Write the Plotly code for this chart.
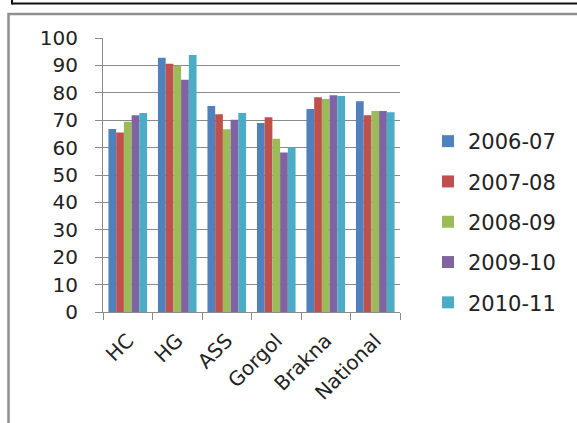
import plotly.graph_objects as go

categories = ["HC", "HG", "ASS", "Gorgol", "Brakna", "National"]
series_names = ["2006-07", "2007-08", "2008-09", "2009-10", "2010-11"]
v_2006_07 = [66.8, 92.8, 75.2, 69.0, 74.1, 76.9]
v_2007_08 = [65.5, 90.6, 72.2, 71.1, 78.4, 71.8]
v_2008_09 = [69.4, 89.9, 66.7, 63.2, 77.7, 73.4]
v_2009_10 = [71.8, 84.8, 70.2, 58.2, 79.1, 73.4]
v_2010_11 = [72.6, 93.8, 72.6, 60.0, 78.8, 72.9]
y_ticks = [0, 10, 20, 30, 40, 50, 60, 70, 80, 90, 100]

series_values = [v_2006_07, v_2007_08, v_2008_09, v_2009_10, v_2010_11]
colors = ["#4F81BD", "#C0504D", "#9BBB59", "#8064A2", "#4BACC6"]

W, H = 577, 423
L, R, T, B = 103, 400, 38, 312
FONT = "DejaVu Sans"
TXT = "#222222"
GRID = "#8a8a8a"

fig = go.Figure()
for name, vals, col in zip(series_names, series_values, colors):
    fig.add_trace(go.Bar(x=categories, y=vals, name=name, legendgroup=name,
                         marker=dict(color=col, line=dict(width=0))))

def px2x(p):
    return (p - L) / (R - L)

def px2y(p):
    return (B - p) / (B - T)

shapes = [
    dict(type="rect", xref="paper", yref="paper",
         x0=px2x(8.5), x1=px2x(700), y0=px2y(14), y1=px2y(600),
         line=dict(color="#8f8f8f", width=2.5), layer="below"),
    dict(type="line", xref="paper", yref="paper",
         x0=px2x(12), x1=px2x(700), y0=px2y(3.5), y1=px2y(3.5),
         line=dict(color="#111111", width=2)),
    dict(type="line", xref="paper", yref="paper",
         x0=px2x(12), x1=px2x(12), y0=px2y(-5), y1=px2y(4.5),
         line=dict(color="#111111", width=2)),
]

fig.update_layout(
    width=W, height=H,
    margin=dict(l=L, r=W - R, t=T, b=H - B, pad=0),
    paper_bgcolor="white", plot_bgcolor="white",
    barmode="group", bargap=0.22, bargroupgap=0,
    font=dict(family=FONT, size=20, color=TXT),
    showlegend=True,
    legend=dict(x=px2x(428), xanchor="left", y=px2y(222), yanchor="middle",
                font=dict(family=FONT, size=21, color=TXT),
                tracegroupgap=10, bgcolor="rgba(0,0,0,0)"),
    shapes=shapes,
    xaxis=dict(type="category", tickangle=-45, ticks="outside", tickson="boundaries",
               ticklen=7, tickcolor=GRID, tickwidth=1,
               showline=True, linecolor=GRID, linewidth=1,
               ticklabelstandoff=8,
               showgrid=False, tickfont=dict(family=FONT, size=20, color=TXT)),
    yaxis=dict(range=[0, 100], tickvals=y_ticks, ticks="outside", ticklen=7,
               tickcolor=GRID, tickwidth=1, showline=True, linecolor=GRID, linewidth=1,
               showgrid=True, gridcolor=GRID, gridwidth=1, zeroline=False,
               ticklabelstandoff=13,
               tickfont=dict(family=FONT, size=20, color=TXT)),
)

fig.write_html("out.html")
